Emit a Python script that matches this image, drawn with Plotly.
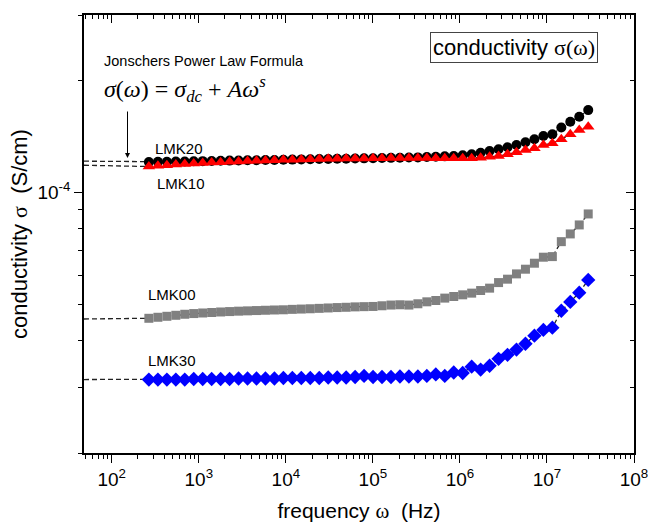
import math
import plotly.graph_objects as go

# ---------------- data ----------------
freq_hz = [267, 339, 430, 545, 690, 875, 1109, 1406, 1782, 2259,
           2864, 3631, 4603, 5834, 7396, 9376, 11885, 15066, 19099, 24210,
           30690, 38905, 49317, 62517, 79250, 100460, 127350, 161440, 204640, 259420,
           328850, 416870, 528450, 669880, 849180, 1076500, 1364600, 1729800, 2192800, 2779700,
           3523700, 4466800, 5662400, 7177900, 9099100, 11535000, 14622000, 18535000, 23496000, 29785000]

lmk20 = [1.209e-4, 1.210e-4, 1.211e-4, 1.2125e-4, 1.213e-4, 1.2147e-4, 1.2154e-4, 1.217e-4, 1.2177e-4, 1.2193e-4,
         1.220e-4, 1.2216e-4, 1.2223e-4, 1.2239e-4, 1.2246e-4, 1.2263e-4, 1.227e-4, 1.2286e-4, 1.2293e-4, 1.231e-4,
         1.2316e-4, 1.2333e-4, 1.234e-4, 1.2356e-4, 1.2364e-4, 1.2379e-4, 1.2387e-4, 1.2403e-4, 1.241e-4, 1.2425e-4,
         1.244e-4, 1.2463e-4, 1.2486e-4, 1.2518e-4, 1.2549e-4, 1.2604e-4, 1.268e-4, 1.2806e-4, 1.2942e-4, 1.308e-4,
         1.3241e-4, 1.3431e-4, 1.3656e-4, 1.3913e-4, 1.4191e-4, 1.4343e-4, 1.4969e-4, 1.5501e-4, 1.599e-4, 1.6664e-4]

lmk10 = [1.1754e-4, 1.1805e-4, 1.1857e-4, 1.1901e-4, 1.1937e-4, 1.1976e-4, 1.2012e-4, 1.2043e-4, 1.2073e-4, 1.2101e-4,
         1.2132e-4, 1.2162e-4, 1.2185e-4, 1.2208e-4, 1.223e-4, 1.2253e-4, 1.2267e-4, 1.2284e-4, 1.2298e-4, 1.2312e-4,
         1.2329e-4, 1.2338e-4, 1.2345e-4, 1.2353e-4, 1.2362e-4, 1.2367e-4, 1.2376e-4, 1.2384e-4, 1.239e-4, 1.239e-4,
         1.239e-4, 1.239e-4, 1.2376e-4, 1.2367e-4, 1.2367e-4, 1.2367e-4, 1.2367e-4, 1.2413e-4, 1.249e-4, 1.2545e-4,
         1.268e-4, 1.2838e-4, 1.3023e-4, 1.3159e-4, 1.3431e-4, 1.3571e-4, 1.3913e-4, 1.4343e-4, 1.4724e-4, 1.5025e-4]

lmk00 = [4.600e-5, 4.629e-5, 4.657e-5, 4.686e-5, 4.716e-5, 4.736e-5, 4.753e-5, 4.768e-5, 4.783e-5, 4.795e-5,
         4.807e-5, 4.816e-5, 4.825e-5, 4.834e-5, 4.842e-5, 4.848e-5, 4.861e-5, 4.870e-5, 4.879e-5, 4.891e-5,
         4.903e-5, 4.915e-5, 4.924e-5, 4.936e-5, 4.943e-5, 4.949e-5, 4.970e-5, 4.992e-5, 5.001e-5, 4.992e-5,
         5.032e-5, 5.093e-5, 5.134e-5, 5.211e-5, 5.263e-5, 5.318e-5, 5.374e-5, 5.461e-5, 5.542e-5, 5.736e-5,
         5.858e-5, 6.053e-5, 6.231e-5, 6.466e-5, 6.711e-5, 6.736e-5, 7.388e-5, 7.750e-5, 8.193e-5, 8.769e-5]

lmk30 = [3.15e-5, 3.15e-5, 3.15e-5, 3.15e-5, 3.15e-5, 3.16e-5, 3.16e-5, 3.16e-5, 3.16e-5, 3.16e-5,
         3.17e-5, 3.17e-5, 3.17e-5, 3.17e-5, 3.17e-5, 3.18e-5, 3.18e-5, 3.18e-5, 3.18e-5, 3.18e-5,
         3.19e-5, 3.19e-5, 3.19e-5, 3.20e-5, 3.22e-5, 3.20e-5, 3.20e-5, 3.20e-5, 3.21e-5, 3.21e-5,
         3.21e-5, 3.22e-5, 3.25e-5, 3.22e-5, 3.29e-5, 3.28e-5, 3.41e-5, 3.35e-5, 3.43e-5, 3.58e-5,
         3.67e-5, 3.79e-5, 3.93e-5, 4.13e-5, 4.28e-5, 4.34e-5, 4.82e-5, 5.09e-5, 5.39e-5, 5.83e-5]

# dc conductivity (plateau of the Jonscher fit) per sample
sigma_dc = {"LMK20": 1.215e-4, "LMK10": 1.185e-4, "LMK00": 4.58e-5, "LMK30": 3.15e-5}

x_range_hz = [48, 1e8]
y_range = [2e-5, 3e-4]
x_tickvals = [1e2, 1e3, 1e4, 1e5, 1e6, 1e7, 1e8]
x_ticks = ["10<sup>2</sup>", "10<sup>3</sup>", "10<sup>4</sup>", "10<sup>5</sup>",
           "10<sup>6</sup>", "10<sup>7</sup>", "10<sup>8</sup>"]
y_tickvals = [1e-4]
y_ticks = ["10<sup>-4</sup>"]

series = [
    ("LMK00", lmk00, "#808080", "square", 9),
    ("LMK30", lmk30, "#0000FF", "diamond", 11),
    ("LMK20", lmk20, "#000000", "circle", 10),
    ("LMK10", lmk10, "#FF0000", "triangle-up", 11),
]

FONT = "Liberation Sans, Arial, sans-serif"
SERIF = "Liberation Serif, Times New Roman, serif"

fig = go.Figure()

# dashed fit lines (behind markers)
for name, vals, color, sym, size in series:
    fig.add_trace(go.Scatter(
        x=[x_range_hz[0]] + freq_hz,
        y=[sigma_dc[name]] + vals,
        mode="lines",
        line=dict(color="#222222", width=1.3, dash="5px,3px"),
        hoverinfo="skip", showlegend=False))

# markers
for name, vals, color, sym, size in series:
    fig.add_trace(go.Scatter(
        x=freq_hz, y=vals, mode="markers", name=name,
        marker=dict(symbol=sym, size=size, color=color, line=dict(width=0)),
        showlegend=False))

# dummy trace for mirrored axes (top / right)
fig.add_trace(go.Scatter(x=[1000], y=[1e-4], xaxis="x2", yaxis="y2", mode="markers",
                         marker=dict(opacity=0), hoverinfo="skip", showlegend=False))

xr = [math.log10(x_range_hz[0]), math.log10(x_range_hz[1])]
yr = [math.log10(y_range[0]), math.log10(y_range[1])]

common = dict(type="log", showgrid=False, zeroline=False, showline=True, automargin=False,
              linecolor="black", linewidth=1.6, tickcolor="black", tickwidth=1.4,
              dtick=1, ticklen=8, ticklabeloverflow="allow")

fig.update_layout(
    width=648, height=523,
    margin=dict(l=84, r=14, t=15, b=70),
    paper_bgcolor="white", plot_bgcolor="white",
    font=dict(family=FONT, color="black"),
    xaxis=dict(**common, range=xr, ticks="outside",
               tickvals=x_tickvals, ticktext=x_ticks,
               minor=dict(ticks="outside", ticklen=4, tickwidth=1, tickcolor="black", dtick="D1"),
               tickfont=dict(size=19, family=FONT),
               title=dict(text="frequency <span style='font-family:Liberation Serif'>ω</span>  (Hz)",
                          font=dict(size=21, family=FONT), standoff=15)),
    yaxis=dict(**common, range=yr, ticks="outside",
               tickvals=y_tickvals, ticktext=y_ticks,
               minor=dict(ticks="outside", ticklen=4, tickwidth=1, tickcolor="black", dtick="D1"),
               tickfont=dict(size=19, family=FONT),
               title=dict(text="conductivity <span style='font-family:Liberation Serif'>σ</span>  (S/cm)",
                          font=dict(size=22, family=FONT), standoff=4)),
    xaxis2=dict(**common, range=xr, overlaying="x", side="top", anchor="y", ticks="inside",
                showticklabels=False,
                minor=dict(ticks="inside", ticklen=4, tickwidth=1, tickcolor="black", dtick="D1")),
    yaxis2=dict(**common, range=yr, overlaying="y", side="right", anchor="x", ticks="inside",
                showticklabels=False,
                minor=dict(ticks="inside", ticklen=4, tickwidth=1, tickcolor="black", dtick="D1")),
)

ann = []
ann.append(dict(xref="paper", yref="paper", x=0.0327, y=0.895, xanchor="left", yanchor="middle",
                text="Jonschers Power Law Formula", showarrow=False,
                font=dict(size=14.5, family=FONT)))
ann.append(dict(xref="paper", yref="paper", x=0.0327, y=0.83, xanchor="left", yanchor="middle",
                text="<i>σ</i>(<i>ω</i>) = <i>σ</i><sub><i>dc</i></sub> + <i>Aω</i><sup><i>s</i></sup>",
                showarrow=False, font=dict(size=24, family=SERIF)))
ann.append(dict(xref="paper", yref="paper", x=0.0791, y=0.6735, ax=0, ay=-48, text="",
                showarrow=True, arrowhead=2, arrowsize=1, arrowwidth=1, arrowcolor="black"))
labels = [("LMK20", 0.1255, 0.695), ("LMK10", 0.129, 0.6153),
          ("LMK00", 0.1127, 0.3619), ("LMK30", 0.1127, 0.2123)]
for t, px, py in labels:
    ann.append(dict(xref="paper", yref="paper", x=px, y=py, xanchor="left", yanchor="middle",
                    text=t, showarrow=False, font=dict(size=15, family=FONT)))
ann.append(dict(xref="paper", yref="paper", x=0.7813, y=0.9253, xanchor="center", yanchor="middle",
                text="conductivity <span style='font-family:Liberation Serif'>σ(ω)</span>",
                showarrow=False, font=dict(size=22, family=FONT),
                bordercolor="#444444", borderwidth=1, borderpad=2, bgcolor="white"))
fig.update_layout(annotations=ann)

fig.write_html("out.html")
